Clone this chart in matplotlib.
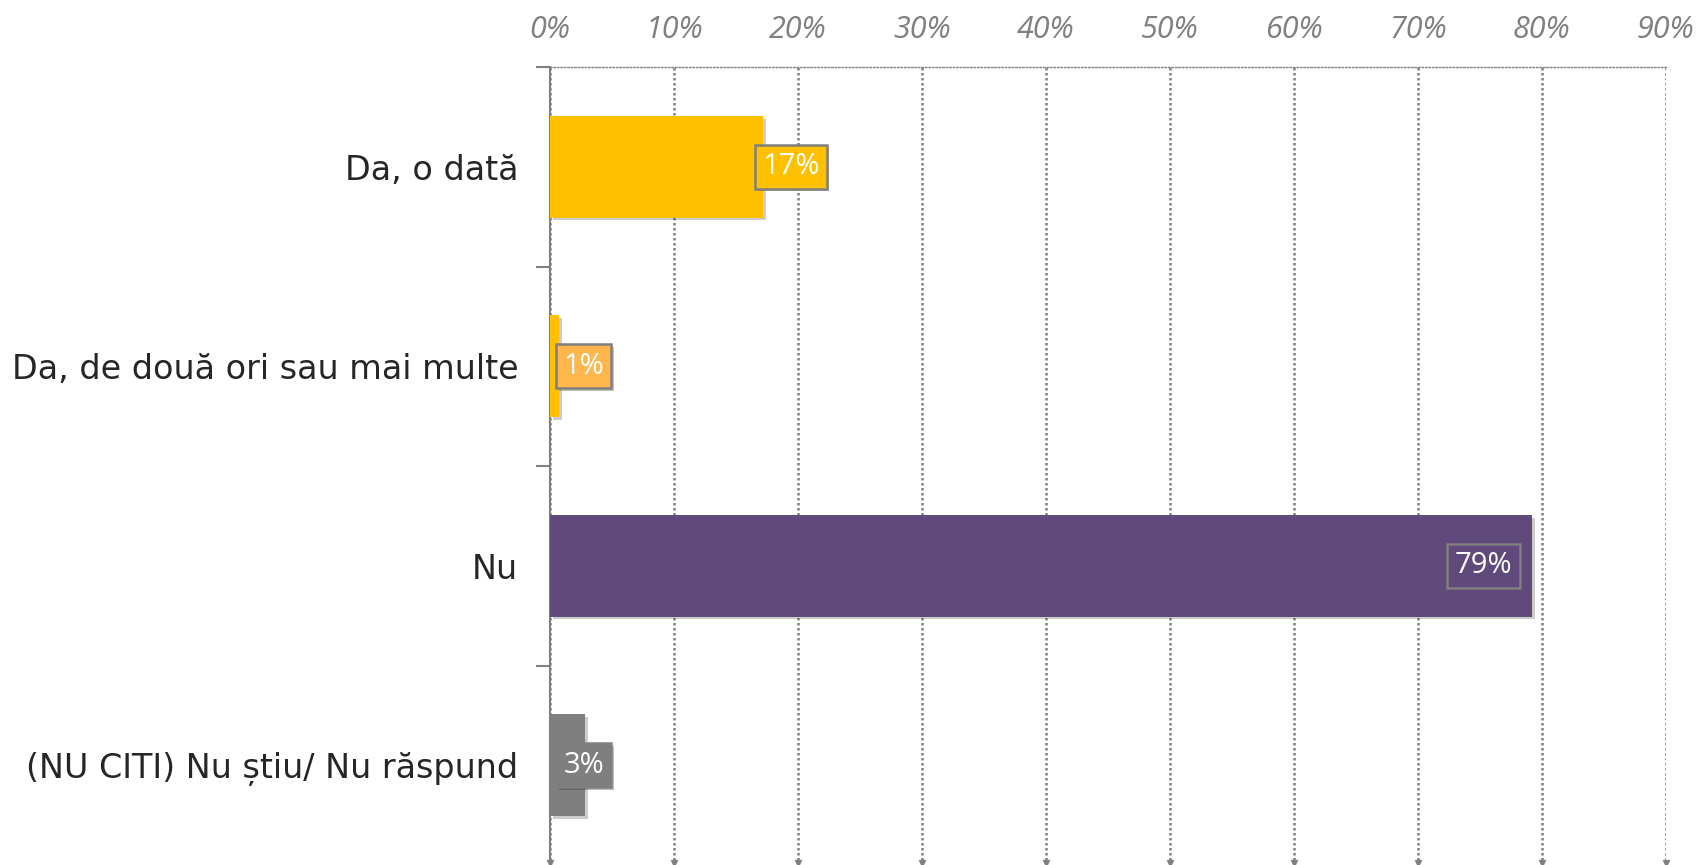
import matplotlib
matplotlib.use("Agg")
import matplotlib.pyplot as plt
import matplotlib.patheffects as pe
import numpy as np

categories = ["Da, o dată", "Da, de două ori sau mai multe", "Nu", "(NU CITI) Nu știu/ Nu răspund"]
values = [17.2, 0.7, 79.2, 2.8]
labels = ["17%", "1%", "79%", "3%"]
label_pos = [19.4, 2.7, 75.3, 2.7]
bar_colors = ["#FFC000", "#FFC000", "#604A7B", "#7F7F7F"]
box_colors = ["#FFC000", "#FFB64D", "#604A7B", "#7F7F7F"]
xticks = list(range(0, 100, 10))
xtick_labels = [f"{t}%" for t in xticks]

fig = plt.figure(figsize=(16.98, 8.65), dpi=100)
ax = fig.add_axes([0.324, 0.0, 0.657, 0.9225])

y = np.arange(len(categories))
shadow = [pe.SimplePatchShadow(offset=(2, -2), shadow_rgbFace="#000000", alpha=0.2), pe.Normal()]
bars = ax.barh(y, values, height=0.51, color=bar_colors, zorder=3, path_effects=shadow)

ax.set_xlim(0, 90)
ax.set_ylim(3.5, -0.5)

# gridlines
for t in xticks:
    ax.axvline(t, color="#808080", linestyle=(0, (1, 1)), linewidth=1.8, zorder=1)
ax.plot(xticks, [3.5 - 0.01] * len(xticks), linestyle="none", marker="v", markersize=4,
        color="#808080", zorder=1, clip_on=False)

ax.xaxis.tick_top()
ax.set_xticks(xticks)
ax.set_xticklabels(xtick_labels, fontsize=22, fontstyle="italic", color="#7F7F7F", family="Open Sans")
ax.tick_params(axis="x", length=0, pad=16)

ax.set_yticks([-0.5, 0.5, 1.5, 2.5])
ax.set_yticklabels([])
ax.tick_params(axis="y", which="major", length=10, width=1.5, color="#808080")
ax.set_yticks(y, minor=True)
ax.set_yticklabels(categories, minor=True, fontsize=24, color="#262626", family="DejaVu Sans")
ax.tick_params(axis="y", which="minor", length=0, pad=23)

for s in ["right", "bottom"]:
    ax.spines[s].set_visible(False)
ax.spines["left"].set_color("#808080")
ax.spines["left"].set_linewidth(1.5)
ax.spines["top"].set_color("#808080")
ax.spines["top"].set_linestyle((0, (1, 1.5)))
ax.spines["top"].set_linewidth(1.0)

for yi, lab, xp, bc in zip(y, labels, label_pos, box_colors):
    t = ax.text(xp, yi, lab, ha="center", va="center", fontsize=21, color="white",
                family="Open Sans", zorder=5,
                bbox=dict(boxstyle="square,pad=0.25", facecolor=bc, edgecolor="#7F7F7F", linewidth=1.8))
    t.get_bbox_patch().set_path_effects([pe.SimplePatchShadow(offset=(2, -2), alpha=0.3), pe.Normal()])

fig.savefig("out.png", dpi=100)
